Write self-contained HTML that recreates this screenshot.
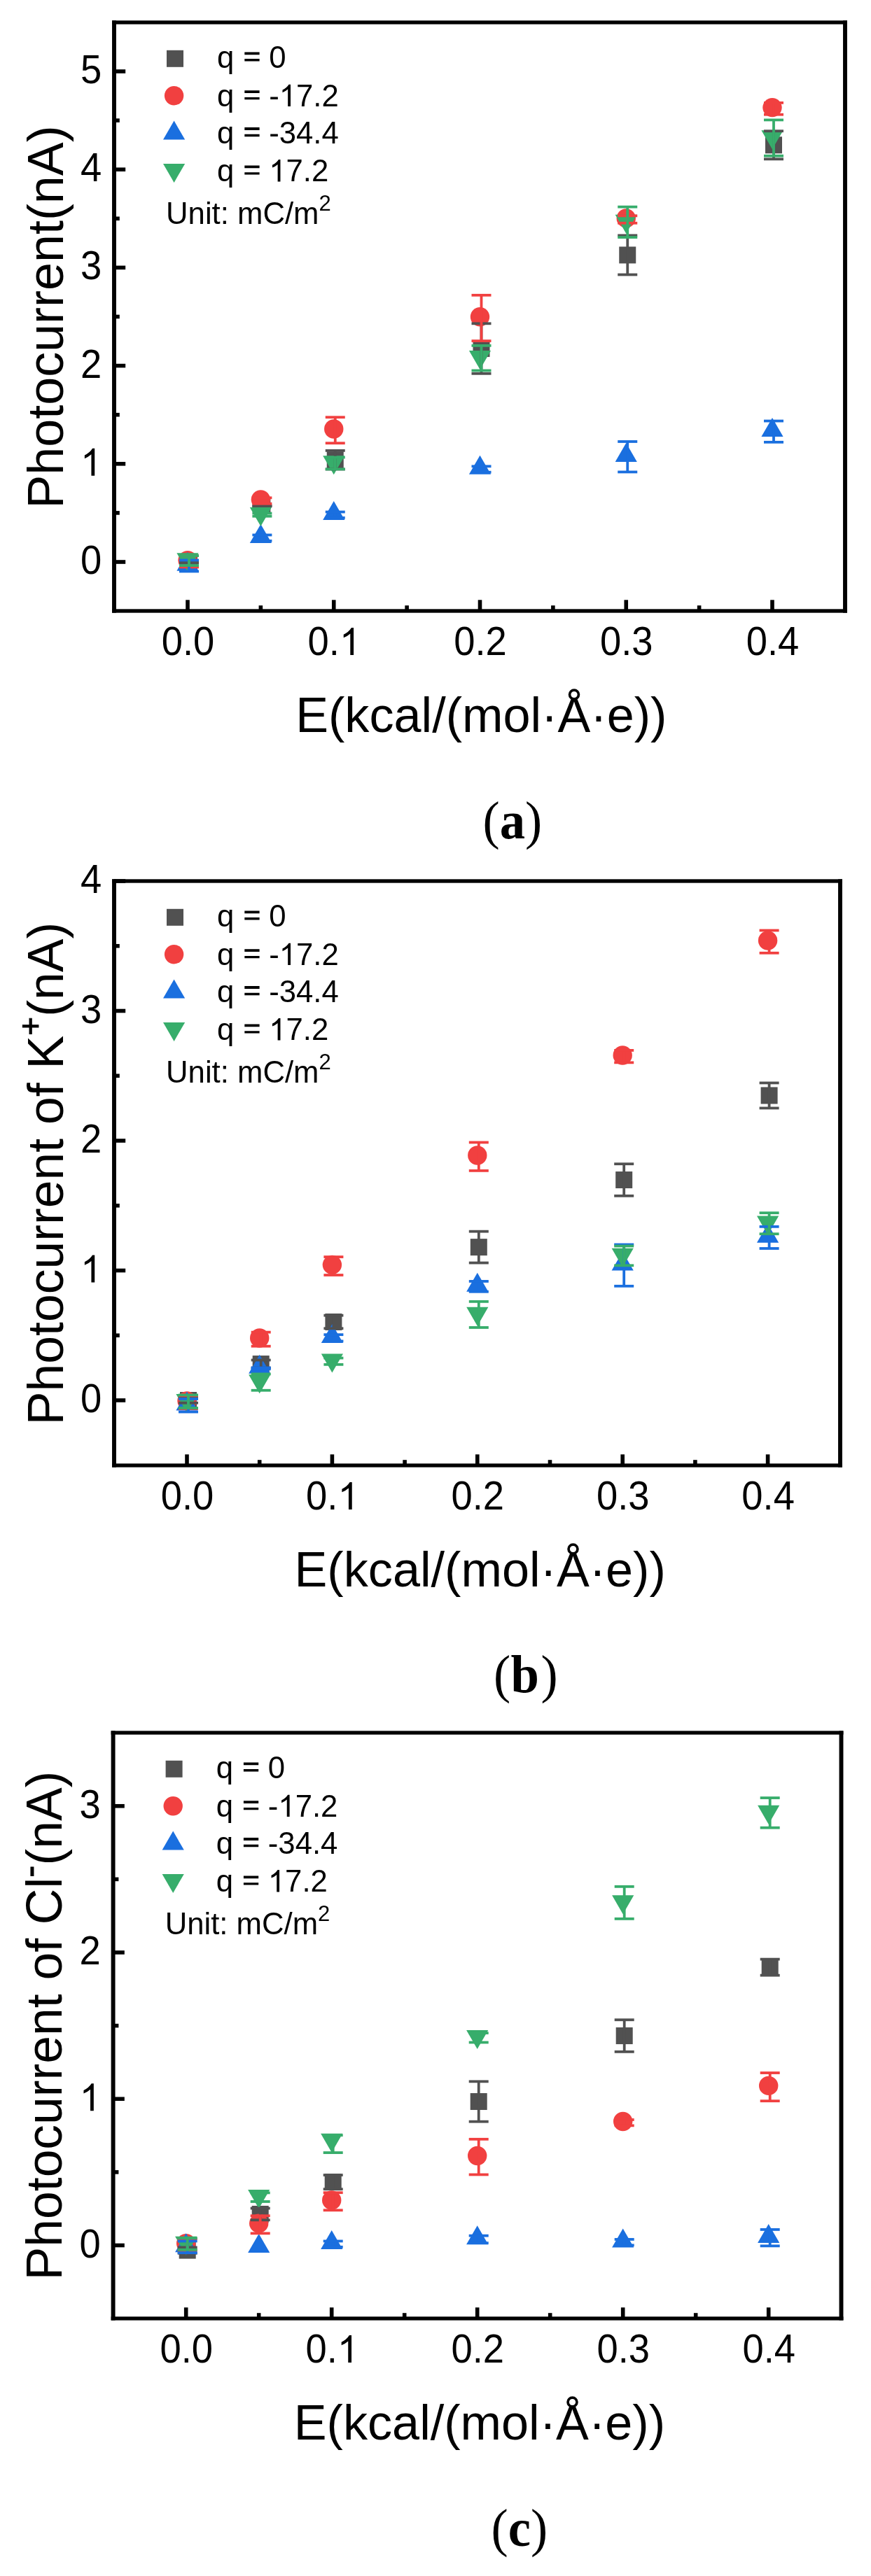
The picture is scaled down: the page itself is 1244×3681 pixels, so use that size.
<!DOCTYPE html>
<html><head><meta charset="utf-8"><style>
html,body{margin:0;padding:0;background:#fff;}
body{width:1244px;height:3681px;overflow:hidden;}
svg{display:block;will-change:transform;}
text{font-family:"Liberation Sans",sans-serif;fill:#000;font-kerning:none;font-feature-settings:"kern" 0;}
text.serif{font-family:"Liberation Serif",serif;}
</style></head><body>
<svg width="1244" height="3681" viewBox="0 0 1244 3681">
<line x1="163" y1="803" x2="179.2" y2="803" stroke="#000" stroke-width="5.6"/>
<line x1="163" y1="732.9" x2="170.8" y2="732.9" stroke="#000" stroke-width="5.6"/>
<line x1="163" y1="662.8" x2="179.2" y2="662.8" stroke="#000" stroke-width="5.6"/>
<line x1="163" y1="592.7" x2="170.8" y2="592.7" stroke="#000" stroke-width="5.6"/>
<line x1="163" y1="522.6" x2="179.2" y2="522.6" stroke="#000" stroke-width="5.6"/>
<line x1="163" y1="452.5" x2="170.8" y2="452.5" stroke="#000" stroke-width="5.6"/>
<line x1="163" y1="382.4" x2="179.2" y2="382.4" stroke="#000" stroke-width="5.6"/>
<line x1="163" y1="312.3" x2="170.8" y2="312.3" stroke="#000" stroke-width="5.6"/>
<line x1="163" y1="242.2" x2="179.2" y2="242.2" stroke="#000" stroke-width="5.6"/>
<line x1="163" y1="172.1" x2="170.8" y2="172.1" stroke="#000" stroke-width="5.6"/>
<line x1="163" y1="102" x2="179.2" y2="102" stroke="#000" stroke-width="5.6"/>
<line x1="268" y1="873" x2="268" y2="857.3" stroke="#000" stroke-width="5.6"/>
<line x1="372.38" y1="873" x2="372.38" y2="865.2" stroke="#000" stroke-width="5.6"/>
<line x1="476.75" y1="873" x2="476.75" y2="857.3" stroke="#000" stroke-width="5.6"/>
<line x1="581.12" y1="873" x2="581.12" y2="865.2" stroke="#000" stroke-width="5.6"/>
<line x1="685.5" y1="873" x2="685.5" y2="857.3" stroke="#000" stroke-width="5.6"/>
<line x1="789.88" y1="873" x2="789.88" y2="865.2" stroke="#000" stroke-width="5.6"/>
<line x1="894.25" y1="873" x2="894.25" y2="857.3" stroke="#000" stroke-width="5.6"/>
<line x1="998.63" y1="873" x2="998.63" y2="865.2" stroke="#000" stroke-width="5.6"/>
<line x1="1103" y1="873" x2="1103" y2="857.3" stroke="#000" stroke-width="5.6"/>
<rect x="160.05" y="29.35" width="1049.9" height="5.3" fill="#000"/>
<rect x="160.05" y="870.35" width="1049.9" height="5.3" fill="#000"/>
<rect x="160.05" y="29.35" width="5.9" height="846.3" fill="#000"/>
<rect x="1204.05" y="29.35" width="5.9" height="846.3" fill="#000"/>
<text transform="translate(114.95,820) scale(1,1.045)" font-size="54.4">0</text>
<path transform="translate(114.95,679.8) scale(0.02656,-0.02656)" d="M763,0L583,0L583,1147Q430,1010 223,929L223,1103Q500,1230 644,1466L763,1466Z"/>
<text transform="translate(114.95,539.6) scale(1,1.045)" font-size="54.4">2</text>
<text transform="translate(114.95,399.4) scale(1,1.045)" font-size="54.4">3</text>
<text transform="translate(114.95,259.2) scale(1,1.045)" font-size="54.4">4</text>
<text transform="translate(114.95,119) scale(1,1.045)" font-size="54.4">5</text>
<text transform="translate(230.69,936) scale(1,1.045)" font-size="54.4">0.0</text>
<text transform="translate(439.44,936) scale(1,1.045)" font-size="54.4">0.</text><path transform="translate(484.81,936) scale(0.02656,-0.02656)" d="M763,0L583,0L583,1147Q430,1010 223,929L223,1103Q500,1230 644,1466L763,1466Z"/>
<text transform="translate(648.19,936) scale(1,1.045)" font-size="54.4">0.2</text>
<text transform="translate(856.94,936) scale(1,1.045)" font-size="54.4">0.3</text>
<text transform="translate(1065.69,936) scale(1,1.045)" font-size="54.4">0.4</text>
<rect x="258" y="791" width="24" height="24" fill="#515151"/>
<rect x="362.38" y="711.09" width="24" height="24" fill="#515151"/>
<rect x="466.75" y="645.19" width="24" height="24" fill="#515151"/>
<rect x="675.5" y="486.06" width="24" height="24" fill="#515151"/>
<rect x="884.25" y="352.45" width="24" height="24" fill="#515151"/>
<rect x="1093" y="195.29" width="24" height="24" fill="#515151"/>
<circle cx="268" cy="800.62" r="13.7" fill="#F14040"/>
<circle cx="372.38" cy="713.83" r="13.7" fill="#F14040"/>
<circle cx="476.75" cy="613.03" r="13.7" fill="#F14040"/>
<circle cx="685.5" cy="452.78" r="13.7" fill="#F14040"/>
<circle cx="894.25" cy="311.88" r="13.7" fill="#F14040"/>
<circle cx="1103" cy="153.59" r="13.7" fill="#F14040"/>
<polygon points="268,788.79 283.59,815.79 252.41,815.79" fill="#1A6FDF"/>
<polygon points="372.38,748.97 387.96,775.97 356.79,775.97" fill="#1A6FDF"/>
<polygon points="476.75,716.02 492.34,743.02 461.16,743.02" fill="#1A6FDF"/>
<polygon points="685.5,650.83 701.09,677.83 669.91,677.83" fill="#1A6FDF"/>
<polygon points="894.25,633.02 909.84,660.02 878.66,660.02" fill="#1A6FDF"/>
<polygon points="1103,596.99 1118.59,623.99 1087.41,623.99" fill="#1A6FDF"/>
<polygon points="268,817.35 283.59,790.35 252.41,790.35" fill="#37AD6B"/>
<polygon points="372.38,751.88 387.96,724.88 356.79,724.88" fill="#37AD6B"/>
<polygon points="476.75,678.28 492.34,651.28 461.16,651.28" fill="#37AD6B"/>
<polygon points="685.5,527.98 701.09,500.98 669.91,500.98" fill="#37AD6B"/>
<polygon points="894.25,333.66 909.84,306.66 878.66,306.66" fill="#37AD6B"/>
<polygon points="1103,213.37 1118.59,186.37 1087.41,186.37" fill="#37AD6B"/>
<line x1="270" y1="801.6" x2="270" y2="804.4" stroke="#515151" stroke-width="3.8"/><line x1="256" y1="801.6" x2="284" y2="801.6" stroke="#515151" stroke-width="3.8"/><line x1="256" y1="804.4" x2="284" y2="804.4" stroke="#515151" stroke-width="3.8"/>
<line x1="374.38" y1="723.09" x2="374.38" y2="723.09" stroke="#515151" stroke-width="3.8"/><line x1="360.38" y1="723.09" x2="388.38" y2="723.09" stroke="#515151" stroke-width="3.8"/><line x1="360.38" y1="723.09" x2="388.38" y2="723.09" stroke="#515151" stroke-width="3.8"/>
<line x1="478.75" y1="643.87" x2="478.75" y2="670.51" stroke="#515151" stroke-width="3.8"/><line x1="464.75" y1="643.87" x2="492.75" y2="643.87" stroke="#515151" stroke-width="3.8"/><line x1="464.75" y1="670.51" x2="492.75" y2="670.51" stroke="#515151" stroke-width="3.8"/>
<line x1="687.5" y1="462.31" x2="687.5" y2="533.82" stroke="#515151" stroke-width="3.8"/><line x1="673.5" y1="462.31" x2="701.5" y2="462.31" stroke="#515151" stroke-width="3.8"/><line x1="673.5" y1="533.82" x2="701.5" y2="533.82" stroke="#515151" stroke-width="3.8"/>
<line x1="896.25" y1="336.41" x2="896.25" y2="392.49" stroke="#515151" stroke-width="3.8"/><line x1="882.25" y1="336.41" x2="910.25" y2="336.41" stroke="#515151" stroke-width="3.8"/><line x1="882.25" y1="392.49" x2="910.25" y2="392.49" stroke="#515151" stroke-width="3.8"/>
<line x1="1105" y1="187.24" x2="1105" y2="227.34" stroke="#515151" stroke-width="3.8"/><line x1="1091" y1="187.24" x2="1119" y2="187.24" stroke="#515151" stroke-width="3.8"/><line x1="1091" y1="227.34" x2="1119" y2="227.34" stroke="#515151" stroke-width="3.8"/>
<line x1="270" y1="794.18" x2="270" y2="810.45" stroke="#F14040" stroke-width="3.8"/><line x1="256" y1="794.18" x2="284" y2="794.18" stroke="#F14040" stroke-width="3.8"/><line x1="256" y1="810.45" x2="284" y2="810.45" stroke="#F14040" stroke-width="3.8"/>
<line x1="374.38" y1="711.33" x2="374.38" y2="719.74" stroke="#F14040" stroke-width="3.8"/><line x1="360.38" y1="711.33" x2="388.38" y2="711.33" stroke="#F14040" stroke-width="3.8"/><line x1="360.38" y1="719.74" x2="388.38" y2="719.74" stroke="#F14040" stroke-width="3.8"/>
<line x1="478.75" y1="596.22" x2="478.75" y2="633.24" stroke="#F14040" stroke-width="3.8"/><line x1="464.75" y1="596.22" x2="492.75" y2="596.22" stroke="#F14040" stroke-width="3.8"/><line x1="464.75" y1="633.24" x2="492.75" y2="633.24" stroke="#F14040" stroke-width="3.8"/>
<line x1="687.5" y1="421.81" x2="687.5" y2="487.15" stroke="#F14040" stroke-width="3.8"/><line x1="673.5" y1="421.81" x2="701.5" y2="421.81" stroke="#F14040" stroke-width="3.8"/><line x1="673.5" y1="487.15" x2="701.5" y2="487.15" stroke="#F14040" stroke-width="3.8"/>
<line x1="896.25" y1="308.39" x2="896.25" y2="318.77" stroke="#F14040" stroke-width="3.8"/><line x1="882.25" y1="308.39" x2="910.25" y2="308.39" stroke="#F14040" stroke-width="3.8"/><line x1="882.25" y1="318.77" x2="910.25" y2="318.77" stroke="#F14040" stroke-width="3.8"/>
<line x1="1105" y1="146.88" x2="1105" y2="163.71" stroke="#F14040" stroke-width="3.8"/><line x1="1091" y1="146.88" x2="1119" y2="146.88" stroke="#F14040" stroke-width="3.8"/><line x1="1091" y1="163.71" x2="1119" y2="163.71" stroke="#F14040" stroke-width="3.8"/>
<line x1="270" y1="800.49" x2="270" y2="816.48" stroke="#1A6FDF" stroke-width="3.8"/><line x1="256" y1="800.49" x2="284" y2="800.49" stroke="#1A6FDF" stroke-width="3.8"/><line x1="256" y1="816.48" x2="284" y2="816.48" stroke="#1A6FDF" stroke-width="3.8"/>
<line x1="374.38" y1="764.46" x2="374.38" y2="772.87" stroke="#1A6FDF" stroke-width="3.8"/><line x1="360.38" y1="764.46" x2="388.38" y2="764.46" stroke="#1A6FDF" stroke-width="3.8"/><line x1="360.38" y1="772.87" x2="388.38" y2="772.87" stroke="#1A6FDF" stroke-width="3.8"/>
<line x1="478.75" y1="731.52" x2="478.75" y2="739.93" stroke="#1A6FDF" stroke-width="3.8"/><line x1="464.75" y1="731.52" x2="492.75" y2="731.52" stroke="#1A6FDF" stroke-width="3.8"/><line x1="464.75" y1="739.93" x2="492.75" y2="739.93" stroke="#1A6FDF" stroke-width="3.8"/>
<line x1="687.5" y1="666.32" x2="687.5" y2="674.73" stroke="#1A6FDF" stroke-width="3.8"/><line x1="673.5" y1="666.32" x2="701.5" y2="666.32" stroke="#1A6FDF" stroke-width="3.8"/><line x1="673.5" y1="674.73" x2="701.5" y2="674.73" stroke="#1A6FDF" stroke-width="3.8"/>
<line x1="896.25" y1="630.99" x2="896.25" y2="674.45" stroke="#1A6FDF" stroke-width="3.8"/><line x1="882.25" y1="630.99" x2="910.25" y2="630.99" stroke="#1A6FDF" stroke-width="3.8"/><line x1="882.25" y1="674.45" x2="910.25" y2="674.45" stroke="#1A6FDF" stroke-width="3.8"/>
<line x1="1105" y1="601.55" x2="1105" y2="631.83" stroke="#1A6FDF" stroke-width="3.8"/><line x1="1091" y1="601.55" x2="1119" y2="601.55" stroke="#1A6FDF" stroke-width="3.8"/><line x1="1091" y1="631.83" x2="1119" y2="631.83" stroke="#1A6FDF" stroke-width="3.8"/>
<line x1="270" y1="794.04" x2="270" y2="808.06" stroke="#37AD6B" stroke-width="3.8"/><line x1="256" y1="794.04" x2="284" y2="794.04" stroke="#37AD6B" stroke-width="3.8"/><line x1="256" y1="808.06" x2="284" y2="808.06" stroke="#37AD6B" stroke-width="3.8"/>
<line x1="374.38" y1="733.48" x2="374.38" y2="737.68" stroke="#37AD6B" stroke-width="3.8"/><line x1="360.38" y1="733.48" x2="388.38" y2="733.48" stroke="#37AD6B" stroke-width="3.8"/><line x1="360.38" y1="737.68" x2="388.38" y2="737.68" stroke="#37AD6B" stroke-width="3.8"/>
<line x1="478.75" y1="653.56" x2="478.75" y2="670.39" stroke="#37AD6B" stroke-width="3.8"/><line x1="464.75" y1="653.56" x2="492.75" y2="653.56" stroke="#37AD6B" stroke-width="3.8"/><line x1="464.75" y1="670.39" x2="492.75" y2="670.39" stroke="#37AD6B" stroke-width="3.8"/>
<line x1="687.5" y1="493.88" x2="687.5" y2="529.49" stroke="#37AD6B" stroke-width="3.8"/><line x1="673.5" y1="493.88" x2="701.5" y2="493.88" stroke="#37AD6B" stroke-width="3.8"/><line x1="673.5" y1="529.49" x2="701.5" y2="529.49" stroke="#37AD6B" stroke-width="3.8"/>
<line x1="896.25" y1="295.63" x2="896.25" y2="339.1" stroke="#37AD6B" stroke-width="3.8"/><line x1="882.25" y1="295.63" x2="910.25" y2="295.63" stroke="#37AD6B" stroke-width="3.8"/><line x1="882.25" y1="339.1" x2="910.25" y2="339.1" stroke="#37AD6B" stroke-width="3.8"/>
<line x1="1105" y1="171.42" x2="1105" y2="222.73" stroke="#37AD6B" stroke-width="3.8"/><line x1="1091" y1="171.42" x2="1119" y2="171.42" stroke="#37AD6B" stroke-width="3.8"/><line x1="1091" y1="222.73" x2="1119" y2="222.73" stroke="#37AD6B" stroke-width="3.8"/>
<rect x="238" y="71.8" width="24" height="24" fill="#515151"/>
<circle cx="248.6" cy="136.7" r="13.7" fill="#F14040"/>
<polygon points="248.6,172.6 264.19,199.6 233.01,199.6" fill="#1A6FDF"/>
<polygon points="248.6,260.9 264.19,233.9 233.01,233.9" fill="#37AD6B"/>
<text transform="translate(310.06,97.3) scale(1,1.03)" font-size="43.7">q </text><path transform="translate(346.51,97.3) scale(0.02134,-0.02198)" d="M131,446H1129V600H131ZM131,869H1129V1042H131Z"/><text transform="translate(384.17,97.3) scale(1,1.03)" font-size="43.7">0</text>
<text transform="translate(310.06,152.1) scale(1,1.03)" font-size="43.7">q </text><path transform="translate(346.51,152.1) scale(0.02134,-0.02198)" d="M131,446H1129V600H131ZM131,869H1129V1042H131Z"/><text transform="translate(384.17,152.1) scale(1,1.03)" font-size="43.7">-</text><path transform="translate(398.72,152.1) scale(0.02134,-0.02134)" d="M763,0L583,0L583,1147Q430,1010 223,929L223,1103Q500,1230 644,1466L763,1466Z"/><text transform="translate(423.03,152.1) scale(1,1.03)" font-size="43.7">7.2</text>
<text transform="translate(310.06,205) scale(1,1.03)" font-size="43.7">q </text><path transform="translate(346.51,205) scale(0.02134,-0.02198)" d="M131,446H1129V600H131ZM131,869H1129V1042H131Z"/><text transform="translate(384.17,205) scale(1,1.03)" font-size="43.7">-34.4</text>
<text transform="translate(310.06,259.4) scale(1,1.03)" font-size="43.7">q </text><path transform="translate(346.51,259.4) scale(0.02134,-0.02198)" d="M131,446H1129V600H131ZM131,869H1129V1042H131Z"/><path transform="translate(384.17,259.4) scale(0.02134,-0.02134)" d="M763,0L583,0L583,1147Q430,1010 223,929L223,1103Q500,1230 644,1466L763,1466Z"/><text transform="translate(408.48,259.4) scale(1,1.03)" font-size="43.7">7.2</text>
<text transform="translate(237.03,320) scale(1,1.0)" font-size="43.7">Unit: mC/m<tspan dy="-19.4" font-size="31">2</tspan></text>
<text transform="translate(89.5,726.7) rotate(-90) scale(1,1.0)" font-size="71.9">Photocurrent(nA)</text>
<text transform="translate(422.14,1045.9) scale(1,1.0)" font-size="70.2">E(kcal/(mol·Å·e))</text>
<text transform="translate(689.51,1197.8) scale(1,1.05)" font-size="72.6" class="serif">(<tspan font-weight="bold">a</tspan>)</text>
<line x1="163" y1="2001" x2="179.2" y2="2001" stroke="#000" stroke-width="5.6"/>
<line x1="163" y1="1908.25" x2="170.8" y2="1908.25" stroke="#000" stroke-width="5.6"/>
<line x1="163" y1="1815.5" x2="179.2" y2="1815.5" stroke="#000" stroke-width="5.6"/>
<line x1="163" y1="1722.75" x2="170.8" y2="1722.75" stroke="#000" stroke-width="5.6"/>
<line x1="163" y1="1630" x2="179.2" y2="1630" stroke="#000" stroke-width="5.6"/>
<line x1="163" y1="1537.25" x2="170.8" y2="1537.25" stroke="#000" stroke-width="5.6"/>
<line x1="163" y1="1444.5" x2="179.2" y2="1444.5" stroke="#000" stroke-width="5.6"/>
<line x1="163" y1="1351.75" x2="170.8" y2="1351.75" stroke="#000" stroke-width="5.6"/>
<line x1="163" y1="1259" x2="179.2" y2="1259" stroke="#000" stroke-width="5.6"/>
<line x1="267" y1="2094" x2="267" y2="2078.3" stroke="#000" stroke-width="5.6"/>
<line x1="370.7" y1="2094" x2="370.7" y2="2086.2" stroke="#000" stroke-width="5.6"/>
<line x1="474.4" y1="2094" x2="474.4" y2="2078.3" stroke="#000" stroke-width="5.6"/>
<line x1="578.1" y1="2094" x2="578.1" y2="2086.2" stroke="#000" stroke-width="5.6"/>
<line x1="681.8" y1="2094" x2="681.8" y2="2078.3" stroke="#000" stroke-width="5.6"/>
<line x1="785.5" y1="2094" x2="785.5" y2="2086.2" stroke="#000" stroke-width="5.6"/>
<line x1="889.2" y1="2094" x2="889.2" y2="2078.3" stroke="#000" stroke-width="5.6"/>
<line x1="992.9" y1="2094" x2="992.9" y2="2086.2" stroke="#000" stroke-width="5.6"/>
<line x1="1096.6" y1="2094" x2="1096.6" y2="2078.3" stroke="#000" stroke-width="5.6"/>
<rect x="160.05" y="1256.35" width="1042.9" height="5.3" fill="#000"/>
<rect x="160.05" y="2091.35" width="1042.9" height="5.3" fill="#000"/>
<rect x="160.05" y="1256.35" width="5.9" height="840.3" fill="#000"/>
<rect x="1197.05" y="1256.35" width="5.9" height="840.3" fill="#000"/>
<text transform="translate(114.95,2018) scale(1,1.045)" font-size="54.4">0</text>
<path transform="translate(114.95,1832.5) scale(0.02656,-0.02656)" d="M763,0L583,0L583,1147Q430,1010 223,929L223,1103Q500,1230 644,1466L763,1466Z"/>
<text transform="translate(114.95,1647) scale(1,1.045)" font-size="54.4">2</text>
<text transform="translate(114.95,1461.5) scale(1,1.045)" font-size="54.4">3</text>
<text transform="translate(114.95,1276) scale(1,1.045)" font-size="54.4">4</text>
<text transform="translate(229.69,2157) scale(1,1.045)" font-size="54.4">0.0</text>
<text transform="translate(437.09,2157) scale(1,1.045)" font-size="54.4">0.</text><path transform="translate(482.46,2157) scale(0.02656,-0.02656)" d="M763,0L583,0L583,1147Q430,1010 223,929L223,1103Q500,1230 644,1466L763,1466Z"/>
<text transform="translate(644.49,2157) scale(1,1.045)" font-size="54.4">0.2</text>
<text transform="translate(851.89,2157) scale(1,1.045)" font-size="54.4">0.3</text>
<text transform="translate(1059.29,2157) scale(1,1.045)" font-size="54.4">0.4</text>
<rect x="257" y="1989" width="24" height="24" fill="#515151"/>
<rect x="360.7" y="1937.06" width="24" height="24" fill="#515151"/>
<rect x="464.4" y="1876.96" width="24" height="24" fill="#515151"/>
<rect x="671.8" y="1770.11" width="24" height="24" fill="#515151"/>
<rect x="879.2" y="1674.02" width="24" height="24" fill="#515151"/>
<rect x="1086.6" y="1553.45" width="24" height="24" fill="#515151"/>
<circle cx="267" cy="2001.93" r="13.7" fill="#F14040"/>
<circle cx="370.7" cy="1911.96" r="13.7" fill="#F14040"/>
<circle cx="474.4" cy="1807.34" r="13.7" fill="#F14040"/>
<circle cx="681.8" cy="1650.96" r="13.7" fill="#F14040"/>
<circle cx="889.2" cy="1507.94" r="13.7" fill="#F14040"/>
<circle cx="1096.6" cy="1343.96" r="13.7" fill="#F14040"/>
<polygon points="267,1988.57 282.59,2015.57 251.41,2015.57" fill="#1A6FDF"/>
<polygon points="370.7,1935.7 386.29,1962.7 355.11,1962.7" fill="#1A6FDF"/>
<polygon points="474.4,1892.11 489.99,1919.11 458.81,1919.11" fill="#1A6FDF"/>
<polygon points="681.8,1818.65 697.39,1845.65 666.21,1845.65" fill="#1A6FDF"/>
<polygon points="889.2,1788.41 904.79,1815.41 873.61,1815.41" fill="#1A6FDF"/>
<polygon points="1096.6,1748.71 1112.19,1775.71 1081.01,1775.71" fill="#1A6FDF"/>
<polygon points="267,2019 282.59,1992 251.41,1992" fill="#37AD6B"/>
<polygon points="370.7,1991.36 386.29,1964.36 355.11,1964.36" fill="#37AD6B"/>
<polygon points="474.4,1961.49 489.99,1934.49 458.81,1934.49" fill="#37AD6B"/>
<polygon points="681.8,1894.71 697.39,1867.71 666.21,1867.71" fill="#37AD6B"/>
<polygon points="889.2,1810.68 904.79,1783.68 873.61,1783.68" fill="#37AD6B"/>
<polygon points="1096.6,1764.49 1112.19,1737.49 1081.01,1737.49" fill="#37AD6B"/>
<line x1="269" y1="1997.29" x2="269" y2="2004.71" stroke="#515151" stroke-width="3.8"/><line x1="255" y1="1997.29" x2="283" y2="1997.29" stroke="#515151" stroke-width="3.8"/><line x1="255" y1="2004.71" x2="283" y2="2004.71" stroke="#515151" stroke-width="3.8"/>
<line x1="372.7" y1="1943.49" x2="372.7" y2="1954.62" stroke="#515151" stroke-width="3.8"/><line x1="358.7" y1="1943.49" x2="386.7" y2="1943.49" stroke="#515151" stroke-width="3.8"/><line x1="358.7" y1="1954.62" x2="386.7" y2="1954.62" stroke="#515151" stroke-width="3.8"/>
<line x1="476.4" y1="1879.68" x2="476.4" y2="1898.23" stroke="#515151" stroke-width="3.8"/><line x1="462.4" y1="1879.68" x2="490.4" y2="1879.68" stroke="#515151" stroke-width="3.8"/><line x1="462.4" y1="1898.23" x2="490.4" y2="1898.23" stroke="#515151" stroke-width="3.8"/>
<line x1="683.8" y1="1759.66" x2="683.8" y2="1804.56" stroke="#515151" stroke-width="3.8"/><line x1="669.8" y1="1759.66" x2="697.8" y2="1759.66" stroke="#515151" stroke-width="3.8"/><line x1="669.8" y1="1804.56" x2="697.8" y2="1804.56" stroke="#515151" stroke-width="3.8"/>
<line x1="891.2" y1="1663.2" x2="891.2" y2="1708.84" stroke="#515151" stroke-width="3.8"/><line x1="877.2" y1="1663.2" x2="905.2" y2="1663.2" stroke="#515151" stroke-width="3.8"/><line x1="877.2" y1="1708.84" x2="905.2" y2="1708.84" stroke="#515151" stroke-width="3.8"/>
<line x1="1098.6" y1="1547.45" x2="1098.6" y2="1583.44" stroke="#515151" stroke-width="3.8"/><line x1="1084.6" y1="1547.45" x2="1112.6" y2="1547.45" stroke="#515151" stroke-width="3.8"/><line x1="1084.6" y1="1583.44" x2="1112.6" y2="1583.44" stroke="#515151" stroke-width="3.8"/>
<line x1="269" y1="1994.35" x2="269" y2="2012.9" stroke="#F14040" stroke-width="3.8"/><line x1="255" y1="1994.35" x2="283" y2="1994.35" stroke="#F14040" stroke-width="3.8"/><line x1="255" y1="2012.9" x2="283" y2="2012.9" stroke="#F14040" stroke-width="3.8"/>
<line x1="372.7" y1="1903.64" x2="372.7" y2="1923.68" stroke="#F14040" stroke-width="3.8"/><line x1="358.7" y1="1903.64" x2="386.7" y2="1903.64" stroke="#F14040" stroke-width="3.8"/><line x1="358.7" y1="1923.68" x2="386.7" y2="1923.68" stroke="#F14040" stroke-width="3.8"/>
<line x1="476.4" y1="1796.05" x2="476.4" y2="1822.02" stroke="#F14040" stroke-width="3.8"/><line x1="462.4" y1="1796.05" x2="490.4" y2="1796.05" stroke="#F14040" stroke-width="3.8"/><line x1="462.4" y1="1822.02" x2="490.4" y2="1822.02" stroke="#F14040" stroke-width="3.8"/>
<line x1="683.8" y1="1632.44" x2="683.8" y2="1672.88" stroke="#F14040" stroke-width="3.8"/><line x1="669.8" y1="1632.44" x2="697.8" y2="1632.44" stroke="#F14040" stroke-width="3.8"/><line x1="669.8" y1="1672.88" x2="697.8" y2="1672.88" stroke="#F14040" stroke-width="3.8"/>
<line x1="891.2" y1="1500.92" x2="891.2" y2="1518.36" stroke="#F14040" stroke-width="3.8"/><line x1="877.2" y1="1500.92" x2="905.2" y2="1500.92" stroke="#F14040" stroke-width="3.8"/><line x1="877.2" y1="1518.36" x2="905.2" y2="1518.36" stroke="#F14040" stroke-width="3.8"/>
<line x1="1098.6" y1="1329.52" x2="1098.6" y2="1361.8" stroke="#F14040" stroke-width="3.8"/><line x1="1084.6" y1="1329.52" x2="1112.6" y2="1329.52" stroke="#F14040" stroke-width="3.8"/><line x1="1084.6" y1="1361.8" x2="1112.6" y2="1361.8" stroke="#F14040" stroke-width="3.8"/>
<line x1="269" y1="1998.99" x2="269" y2="2017.54" stroke="#1A6FDF" stroke-width="3.8"/><line x1="255" y1="1998.99" x2="283" y2="1998.99" stroke="#1A6FDF" stroke-width="3.8"/><line x1="255" y1="2017.54" x2="283" y2="2017.54" stroke="#1A6FDF" stroke-width="3.8"/>
<line x1="372.7" y1="1954.47" x2="372.7" y2="1956.33" stroke="#1A6FDF" stroke-width="3.8"/><line x1="358.7" y1="1954.47" x2="386.7" y2="1954.47" stroke="#1A6FDF" stroke-width="3.8"/><line x1="358.7" y1="1956.33" x2="386.7" y2="1956.33" stroke="#1A6FDF" stroke-width="3.8"/>
<line x1="476.4" y1="1907.17" x2="476.4" y2="1916.44" stroke="#1A6FDF" stroke-width="3.8"/><line x1="462.4" y1="1907.17" x2="490.4" y2="1907.17" stroke="#1A6FDF" stroke-width="3.8"/><line x1="462.4" y1="1916.44" x2="490.4" y2="1916.44" stroke="#1A6FDF" stroke-width="3.8"/>
<line x1="683.8" y1="1830.93" x2="683.8" y2="1845.77" stroke="#1A6FDF" stroke-width="3.8"/><line x1="669.8" y1="1830.93" x2="697.8" y2="1830.93" stroke="#1A6FDF" stroke-width="3.8"/><line x1="669.8" y1="1845.77" x2="697.8" y2="1845.77" stroke="#1A6FDF" stroke-width="3.8"/>
<line x1="891.2" y1="1778.43" x2="891.2" y2="1837.79" stroke="#1A6FDF" stroke-width="3.8"/><line x1="877.2" y1="1778.43" x2="905.2" y2="1778.43" stroke="#1A6FDF" stroke-width="3.8"/><line x1="877.2" y1="1837.79" x2="905.2" y2="1837.79" stroke="#1A6FDF" stroke-width="3.8"/>
<line x1="1098.6" y1="1752.83" x2="1098.6" y2="1784" stroke="#1A6FDF" stroke-width="3.8"/><line x1="1084.6" y1="1752.83" x2="1112.6" y2="1752.83" stroke="#1A6FDF" stroke-width="3.8"/><line x1="1084.6" y1="1784" x2="1112.6" y2="1784" stroke="#1A6FDF" stroke-width="3.8"/>
<line x1="269" y1="1993.42" x2="269" y2="2011.98" stroke="#37AD6B" stroke-width="3.8"/><line x1="255" y1="1993.42" x2="283" y2="1993.42" stroke="#37AD6B" stroke-width="3.8"/><line x1="255" y1="2011.98" x2="283" y2="2011.98" stroke="#37AD6B" stroke-width="3.8"/>
<line x1="372.7" y1="1963.37" x2="372.7" y2="1986.75" stroke="#37AD6B" stroke-width="3.8"/><line x1="358.7" y1="1963.37" x2="386.7" y2="1963.37" stroke="#37AD6B" stroke-width="3.8"/><line x1="358.7" y1="1986.75" x2="386.7" y2="1986.75" stroke="#37AD6B" stroke-width="3.8"/>
<line x1="476.4" y1="1940.56" x2="476.4" y2="1949.83" stroke="#37AD6B" stroke-width="3.8"/><line x1="462.4" y1="1940.56" x2="490.4" y2="1940.56" stroke="#37AD6B" stroke-width="3.8"/><line x1="462.4" y1="1949.83" x2="490.4" y2="1949.83" stroke="#37AD6B" stroke-width="3.8"/>
<line x1="683.8" y1="1859.87" x2="683.8" y2="1896.96" stroke="#37AD6B" stroke-width="3.8"/><line x1="669.8" y1="1859.87" x2="697.8" y2="1859.87" stroke="#37AD6B" stroke-width="3.8"/><line x1="669.8" y1="1896.96" x2="697.8" y2="1896.96" stroke="#37AD6B" stroke-width="3.8"/>
<line x1="891.2" y1="1780.47" x2="891.2" y2="1808.3" stroke="#37AD6B" stroke-width="3.8"/><line x1="877.2" y1="1780.47" x2="905.2" y2="1780.47" stroke="#37AD6B" stroke-width="3.8"/><line x1="877.2" y1="1808.3" x2="905.2" y2="1808.3" stroke="#37AD6B" stroke-width="3.8"/>
<line x1="1098.6" y1="1733.17" x2="1098.6" y2="1763.22" stroke="#37AD6B" stroke-width="3.8"/><line x1="1084.6" y1="1733.17" x2="1112.6" y2="1733.17" stroke="#37AD6B" stroke-width="3.8"/><line x1="1084.6" y1="1763.22" x2="1112.6" y2="1763.22" stroke="#37AD6B" stroke-width="3.8"/>
<rect x="238" y="1298.8" width="24" height="24" fill="#515151"/>
<circle cx="248.6" cy="1363.7" r="13.7" fill="#F14040"/>
<polygon points="248.6,1399.6 264.19,1426.6 233.01,1426.6" fill="#1A6FDF"/>
<polygon points="248.6,1487.9 264.19,1460.9 233.01,1460.9" fill="#37AD6B"/>
<text transform="translate(310.06,1324.3) scale(1,1.03)" font-size="43.7">q </text><path transform="translate(346.51,1324.3) scale(0.02134,-0.02198)" d="M131,446H1129V600H131ZM131,869H1129V1042H131Z"/><text transform="translate(384.17,1324.3) scale(1,1.03)" font-size="43.7">0</text>
<text transform="translate(310.06,1379.1) scale(1,1.03)" font-size="43.7">q </text><path transform="translate(346.51,1379.1) scale(0.02134,-0.02198)" d="M131,446H1129V600H131ZM131,869H1129V1042H131Z"/><text transform="translate(384.17,1379.1) scale(1,1.03)" font-size="43.7">-</text><path transform="translate(398.72,1379.1) scale(0.02134,-0.02134)" d="M763,0L583,0L583,1147Q430,1010 223,929L223,1103Q500,1230 644,1466L763,1466Z"/><text transform="translate(423.03,1379.1) scale(1,1.03)" font-size="43.7">7.2</text>
<text transform="translate(310.06,1432) scale(1,1.03)" font-size="43.7">q </text><path transform="translate(346.51,1432) scale(0.02134,-0.02198)" d="M131,446H1129V600H131ZM131,869H1129V1042H131Z"/><text transform="translate(384.17,1432) scale(1,1.03)" font-size="43.7">-34.4</text>
<text transform="translate(310.06,1486.4) scale(1,1.03)" font-size="43.7">q </text><path transform="translate(346.51,1486.4) scale(0.02134,-0.02198)" d="M131,446H1129V600H131ZM131,869H1129V1042H131Z"/><path transform="translate(384.17,1486.4) scale(0.02134,-0.02134)" d="M763,0L583,0L583,1147Q430,1010 223,929L223,1103Q500,1230 644,1466L763,1466Z"/><text transform="translate(408.48,1486.4) scale(1,1.03)" font-size="43.7">7.2</text>
<text transform="translate(237.03,1547) scale(1,1.0)" font-size="43.7">Unit: mC/m<tspan dy="-19.4" font-size="31">2</tspan></text>
<text transform="translate(90,2036.17) rotate(-90) scale(1,1.0)" font-size="71.5">Photocurrent of K<tspan dy="-31.50" font-size="46" style="stroke:#000;stroke-width:0.9px">+</tspan><tspan dy="31.50">(nA)</tspan></text>
<text transform="translate(420.54,2266.9) scale(1,1.0)" font-size="70.2">E(kcal/(mol·Å·e))</text>
<text transform="translate(704.91,2418) scale(1,1.05)" font-size="72.6" class="serif">(<tspan font-weight="bold" dx="0.5">b</tspan><tspan dx="2.5">)</tspan></text>
<line x1="161.6" y1="3208.5" x2="177.8" y2="3208.5" stroke="#000" stroke-width="5.6"/>
<line x1="161.6" y1="3103.88" x2="169.4" y2="3103.88" stroke="#000" stroke-width="5.6"/>
<line x1="161.6" y1="2999.25" x2="177.8" y2="2999.25" stroke="#000" stroke-width="5.6"/>
<line x1="161.6" y1="2894.62" x2="169.4" y2="2894.62" stroke="#000" stroke-width="5.6"/>
<line x1="161.6" y1="2790" x2="177.8" y2="2790" stroke="#000" stroke-width="5.6"/>
<line x1="161.6" y1="2685.38" x2="169.4" y2="2685.38" stroke="#000" stroke-width="5.6"/>
<line x1="161.6" y1="2580.75" x2="177.8" y2="2580.75" stroke="#000" stroke-width="5.6"/>
<line x1="265.7" y1="3313" x2="265.7" y2="3297.3" stroke="#000" stroke-width="5.6"/>
<line x1="369.7" y1="3313" x2="369.7" y2="3305.2" stroke="#000" stroke-width="5.6"/>
<line x1="473.7" y1="3313" x2="473.7" y2="3297.3" stroke="#000" stroke-width="5.6"/>
<line x1="577.7" y1="3313" x2="577.7" y2="3305.2" stroke="#000" stroke-width="5.6"/>
<line x1="681.7" y1="3313" x2="681.7" y2="3297.3" stroke="#000" stroke-width="5.6"/>
<line x1="785.7" y1="3313" x2="785.7" y2="3305.2" stroke="#000" stroke-width="5.6"/>
<line x1="889.7" y1="3313" x2="889.7" y2="3297.3" stroke="#000" stroke-width="5.6"/>
<line x1="993.7" y1="3313" x2="993.7" y2="3305.2" stroke="#000" stroke-width="5.6"/>
<line x1="1097.7" y1="3313" x2="1097.7" y2="3297.3" stroke="#000" stroke-width="5.6"/>
<rect x="158.65" y="2473.35" width="1045.8" height="5.3" fill="#000"/>
<rect x="158.65" y="3310.35" width="1045.8" height="5.3" fill="#000"/>
<rect x="158.65" y="2473.35" width="5.9" height="842.3" fill="#000"/>
<rect x="1198.55" y="2473.35" width="5.9" height="842.3" fill="#000"/>
<text transform="translate(113.55,3225.5) scale(1,1.045)" font-size="54.4">0</text>
<path transform="translate(113.55,3016.25) scale(0.02656,-0.02656)" d="M763,0L583,0L583,1147Q430,1010 223,929L223,1103Q500,1230 644,1466L763,1466Z"/>
<text transform="translate(113.55,2807) scale(1,1.045)" font-size="54.4">2</text>
<text transform="translate(113.55,2597.75) scale(1,1.045)" font-size="54.4">3</text>
<text transform="translate(228.39,3376) scale(1,1.045)" font-size="54.4">0.0</text>
<text transform="translate(436.39,3376) scale(1,1.045)" font-size="54.4">0.</text><path transform="translate(481.76,3376) scale(0.02656,-0.02656)" d="M763,0L583,0L583,1147Q430,1010 223,929L223,1103Q500,1230 644,1466L763,1466Z"/>
<text transform="translate(644.39,3376) scale(1,1.045)" font-size="54.4">0.2</text>
<text transform="translate(852.39,3376) scale(1,1.045)" font-size="54.4">0.3</text>
<text transform="translate(1060.39,3376) scale(1,1.045)" font-size="54.4">0.4</text>
<rect x="255.7" y="3203.61" width="24" height="24" fill="#515151"/>
<rect x="359.7" y="3151.93" width="24" height="24" fill="#515151"/>
<rect x="463.7" y="3106.1" width="24" height="24" fill="#515151"/>
<rect x="671.7" y="2991.02" width="24" height="24" fill="#515151"/>
<rect x="879.7" y="2897.06" width="24" height="24" fill="#515151"/>
<rect x="1087.7" y="2799.13" width="24" height="24" fill="#515151"/>
<circle cx="265.7" cy="3205.78" r="13.7" fill="#F14040"/>
<circle cx="369.7" cy="3177.11" r="13.7" fill="#F14040"/>
<circle cx="473.7" cy="3144.05" r="13.7" fill="#F14040"/>
<circle cx="681.7" cy="3080.44" r="13.7" fill="#F14040"/>
<circle cx="889.7" cy="3031.47" r="13.7" fill="#F14040"/>
<circle cx="1097.7" cy="2980.42" r="13.7" fill="#F14040"/>
<polygon points="265.7,3191.13 281.29,3218.13 250.11,3218.13" fill="#1A6FDF"/>
<polygon points="369.7,3191.96 385.29,3218.96 354.11,3218.96" fill="#1A6FDF"/>
<polygon points="473.7,3186.94 489.29,3213.94 458.11,3213.94" fill="#1A6FDF"/>
<polygon points="681.7,3180.25 697.29,3207.25 666.11,3207.25" fill="#1A6FDF"/>
<polygon points="889.7,3184.43 905.29,3211.43 874.11,3211.43" fill="#1A6FDF"/>
<polygon points="1097.7,3177.95 1113.29,3204.95 1082.11,3204.95" fill="#1A6FDF"/>
<polygon points="265.7,3222.73 281.29,3195.73 250.11,3195.73" fill="#37AD6B"/>
<polygon points="369.7,3155.98 385.29,3128.98 354.11,3128.98" fill="#37AD6B"/>
<polygon points="473.7,3075.84 489.29,3048.84 458.11,3048.84" fill="#37AD6B"/>
<polygon points="681.7,2928.11 697.29,2901.11 666.11,2901.11" fill="#37AD6B"/>
<polygon points="889.7,2735.18 905.29,2708.18 874.11,2708.18" fill="#37AD6B"/>
<polygon points="1097.7,2606.7 1113.29,2579.7 1082.11,2579.7" fill="#37AD6B"/>
<line x1="267.7" y1="3211.43" x2="267.7" y2="3219.8" stroke="#515151" stroke-width="3.8"/><line x1="253.7" y1="3211.43" x2="281.7" y2="3211.43" stroke="#515151" stroke-width="3.8"/><line x1="253.7" y1="3219.8" x2="281.7" y2="3219.8" stroke="#515151" stroke-width="3.8"/>
<line x1="371.7" y1="3155.56" x2="371.7" y2="3172.3" stroke="#515151" stroke-width="3.8"/><line x1="357.7" y1="3155.56" x2="385.7" y2="3155.56" stroke="#515151" stroke-width="3.8"/><line x1="357.7" y1="3172.3" x2="385.7" y2="3172.3" stroke="#515151" stroke-width="3.8"/>
<line x1="475.7" y1="3108.06" x2="475.7" y2="3128.15" stroke="#515151" stroke-width="3.8"/><line x1="461.7" y1="3108.06" x2="489.7" y2="3108.06" stroke="#515151" stroke-width="3.8"/><line x1="461.7" y1="3128.15" x2="489.7" y2="3128.15" stroke="#515151" stroke-width="3.8"/>
<line x1="683.7" y1="2974.35" x2="683.7" y2="3031.68" stroke="#515151" stroke-width="3.8"/><line x1="669.7" y1="2974.35" x2="697.7" y2="2974.35" stroke="#515151" stroke-width="3.8"/><line x1="669.7" y1="3031.68" x2="697.7" y2="3031.68" stroke="#515151" stroke-width="3.8"/>
<line x1="891.7" y1="2886.25" x2="891.7" y2="2931.87" stroke="#515151" stroke-width="3.8"/><line x1="877.7" y1="2886.25" x2="905.7" y2="2886.25" stroke="#515151" stroke-width="3.8"/><line x1="877.7" y1="2931.87" x2="905.7" y2="2931.87" stroke="#515151" stroke-width="3.8"/>
<line x1="1099.7" y1="2799.63" x2="1099.7" y2="2822.64" stroke="#515151" stroke-width="3.8"/><line x1="1085.7" y1="2799.63" x2="1113.7" y2="2799.63" stroke="#515151" stroke-width="3.8"/><line x1="1085.7" y1="2822.64" x2="1113.7" y2="2822.64" stroke="#515151" stroke-width="3.8"/>
<line x1="267.7" y1="3199.11" x2="267.7" y2="3215.85" stroke="#F14040" stroke-width="3.8"/><line x1="253.7" y1="3199.11" x2="281.7" y2="3199.11" stroke="#F14040" stroke-width="3.8"/><line x1="253.7" y1="3215.85" x2="281.7" y2="3215.85" stroke="#F14040" stroke-width="3.8"/>
<line x1="371.7" y1="3166.26" x2="371.7" y2="3191.37" stroke="#F14040" stroke-width="3.8"/><line x1="357.7" y1="3166.26" x2="385.7" y2="3166.26" stroke="#F14040" stroke-width="3.8"/><line x1="357.7" y1="3191.37" x2="385.7" y2="3191.37" stroke="#F14040" stroke-width="3.8"/>
<line x1="475.7" y1="3133.2" x2="475.7" y2="3158.31" stroke="#F14040" stroke-width="3.8"/><line x1="461.7" y1="3133.2" x2="489.7" y2="3133.2" stroke="#F14040" stroke-width="3.8"/><line x1="461.7" y1="3158.31" x2="489.7" y2="3158.31" stroke="#F14040" stroke-width="3.8"/>
<line x1="683.7" y1="3056.82" x2="683.7" y2="3107.46" stroke="#F14040" stroke-width="3.8"/><line x1="669.7" y1="3056.82" x2="697.7" y2="3056.82" stroke="#F14040" stroke-width="3.8"/><line x1="669.7" y1="3107.46" x2="697.7" y2="3107.46" stroke="#F14040" stroke-width="3.8"/>
<line x1="891.7" y1="3028.99" x2="891.7" y2="3037.36" stroke="#F14040" stroke-width="3.8"/><line x1="877.7" y1="3028.99" x2="905.7" y2="3028.99" stroke="#F14040" stroke-width="3.8"/><line x1="877.7" y1="3037.36" x2="905.7" y2="3037.36" stroke="#F14040" stroke-width="3.8"/>
<line x1="1099.7" y1="2962.03" x2="1099.7" y2="3002.21" stroke="#F14040" stroke-width="3.8"/><line x1="1085.7" y1="2962.03" x2="1113.7" y2="2962.03" stroke="#F14040" stroke-width="3.8"/><line x1="1085.7" y1="3002.21" x2="1113.7" y2="3002.21" stroke="#F14040" stroke-width="3.8"/>
<line x1="267.7" y1="3202.46" x2="267.7" y2="3219.2" stroke="#1A6FDF" stroke-width="3.8"/><line x1="253.7" y1="3202.46" x2="281.7" y2="3202.46" stroke="#1A6FDF" stroke-width="3.8"/><line x1="253.7" y1="3219.2" x2="281.7" y2="3219.2" stroke="#1A6FDF" stroke-width="3.8"/>

<line x1="475.7" y1="3202.46" x2="475.7" y2="3210.83" stroke="#1A6FDF" stroke-width="3.8"/><line x1="461.7" y1="3202.46" x2="489.7" y2="3202.46" stroke="#1A6FDF" stroke-width="3.8"/><line x1="461.7" y1="3210.83" x2="489.7" y2="3210.83" stroke="#1A6FDF" stroke-width="3.8"/>
<line x1="683.7" y1="3194.72" x2="683.7" y2="3205.18" stroke="#1A6FDF" stroke-width="3.8"/><line x1="669.7" y1="3194.72" x2="697.7" y2="3194.72" stroke="#1A6FDF" stroke-width="3.8"/><line x1="669.7" y1="3205.18" x2="697.7" y2="3205.18" stroke="#1A6FDF" stroke-width="3.8"/>
<line x1="891.7" y1="3199.95" x2="891.7" y2="3208.32" stroke="#1A6FDF" stroke-width="3.8"/><line x1="877.7" y1="3199.95" x2="905.7" y2="3199.95" stroke="#1A6FDF" stroke-width="3.8"/><line x1="877.7" y1="3208.32" x2="905.7" y2="3208.32" stroke="#1A6FDF" stroke-width="3.8"/>
<line x1="1099.7" y1="3185.93" x2="1099.7" y2="3209.36" stroke="#1A6FDF" stroke-width="3.8"/><line x1="1085.7" y1="3185.93" x2="1113.7" y2="3185.93" stroke="#1A6FDF" stroke-width="3.8"/><line x1="1085.7" y1="3209.36" x2="1113.7" y2="3209.36" stroke="#1A6FDF" stroke-width="3.8"/>
<line x1="267.7" y1="3198.06" x2="267.7" y2="3214.8" stroke="#37AD6B" stroke-width="3.8"/><line x1="253.7" y1="3198.06" x2="281.7" y2="3198.06" stroke="#37AD6B" stroke-width="3.8"/><line x1="253.7" y1="3214.8" x2="281.7" y2="3214.8" stroke="#37AD6B" stroke-width="3.8"/>
<line x1="371.7" y1="3133.41" x2="371.7" y2="3145.96" stroke="#37AD6B" stroke-width="3.8"/><line x1="357.7" y1="3133.41" x2="385.7" y2="3133.41" stroke="#37AD6B" stroke-width="3.8"/><line x1="357.7" y1="3145.96" x2="385.7" y2="3145.96" stroke="#37AD6B" stroke-width="3.8"/>
<line x1="475.7" y1="3051.17" x2="475.7" y2="3076.07" stroke="#37AD6B" stroke-width="3.8"/><line x1="461.7" y1="3051.17" x2="489.7" y2="3051.17" stroke="#37AD6B" stroke-width="3.8"/><line x1="461.7" y1="3076.07" x2="489.7" y2="3076.07" stroke="#37AD6B" stroke-width="3.8"/>
<line x1="683.7" y1="2905.11" x2="683.7" y2="2918.51" stroke="#37AD6B" stroke-width="3.8"/><line x1="669.7" y1="2905.11" x2="697.7" y2="2905.11" stroke="#37AD6B" stroke-width="3.8"/><line x1="669.7" y1="2918.51" x2="697.7" y2="2918.51" stroke="#37AD6B" stroke-width="3.8"/>
<line x1="891.7" y1="2695.86" x2="891.7" y2="2741.9" stroke="#37AD6B" stroke-width="3.8"/><line x1="877.7" y1="2695.86" x2="905.7" y2="2695.86" stroke="#37AD6B" stroke-width="3.8"/><line x1="877.7" y1="2741.9" x2="905.7" y2="2741.9" stroke="#37AD6B" stroke-width="3.8"/>
<line x1="1099.7" y1="2569.06" x2="1099.7" y2="2611.74" stroke="#37AD6B" stroke-width="3.8"/><line x1="1085.7" y1="2569.06" x2="1113.7" y2="2569.06" stroke="#37AD6B" stroke-width="3.8"/><line x1="1085.7" y1="2611.74" x2="1113.7" y2="2611.74" stroke="#37AD6B" stroke-width="3.8"/>
<rect x="236.6" y="2515.8" width="24" height="24" fill="#515151"/>
<circle cx="247.2" cy="2580.7" r="13.7" fill="#F14040"/>
<polygon points="247.2,2616.6 262.79,2643.6 231.61,2643.6" fill="#1A6FDF"/>
<polygon points="247.2,2704.9 262.79,2677.9 231.61,2677.9" fill="#37AD6B"/>
<text transform="translate(308.66,2541.3) scale(1,1.03)" font-size="43.7">q </text><path transform="translate(345.11,2541.3) scale(0.02134,-0.02198)" d="M131,446H1129V600H131ZM131,869H1129V1042H131Z"/><text transform="translate(382.77,2541.3) scale(1,1.03)" font-size="43.7">0</text>
<text transform="translate(308.66,2596.1) scale(1,1.03)" font-size="43.7">q </text><path transform="translate(345.11,2596.1) scale(0.02134,-0.02198)" d="M131,446H1129V600H131ZM131,869H1129V1042H131Z"/><text transform="translate(382.77,2596.1) scale(1,1.03)" font-size="43.7">-</text><path transform="translate(397.32,2596.1) scale(0.02134,-0.02134)" d="M763,0L583,0L583,1147Q430,1010 223,929L223,1103Q500,1230 644,1466L763,1466Z"/><text transform="translate(421.63,2596.1) scale(1,1.03)" font-size="43.7">7.2</text>
<text transform="translate(308.66,2649) scale(1,1.03)" font-size="43.7">q </text><path transform="translate(345.11,2649) scale(0.02134,-0.02198)" d="M131,446H1129V600H131ZM131,869H1129V1042H131Z"/><text transform="translate(382.77,2649) scale(1,1.03)" font-size="43.7">-34.4</text>
<text transform="translate(308.66,2703.4) scale(1,1.03)" font-size="43.7">q </text><path transform="translate(345.11,2703.4) scale(0.02134,-0.02198)" d="M131,446H1129V600H131ZM131,869H1129V1042H131Z"/><path transform="translate(382.77,2703.4) scale(0.02134,-0.02134)" d="M763,0L583,0L583,1147Q430,1010 223,929L223,1103Q500,1230 644,1466L763,1466Z"/><text transform="translate(407.08,2703.4) scale(1,1.03)" font-size="43.7">7.2</text>
<text transform="translate(235.63,2764) scale(1,1.0)" font-size="43.7">Unit: mC/m<tspan dy="-19.4" font-size="31">2</tspan></text>
<text transform="translate(87.7,3258.26) rotate(-90) scale(1,1.0)" font-size="71.42">Photocurrent of Cl<tspan dy="-27.60" font-size="51.6" style="stroke:#000;stroke-width:0.9px">-</tspan><tspan dy="27.60">(nA)</tspan></text>
<text transform="translate(419.74,3485.9) scale(1,1.0)" font-size="70.2">E(kcal/(mol·Å·e))</text>
<text transform="translate(701.51,3638) scale(1,1.05)" font-size="72.6" class="serif">(<tspan font-weight="bold">c</tspan>)</text>
</svg></body></html>
